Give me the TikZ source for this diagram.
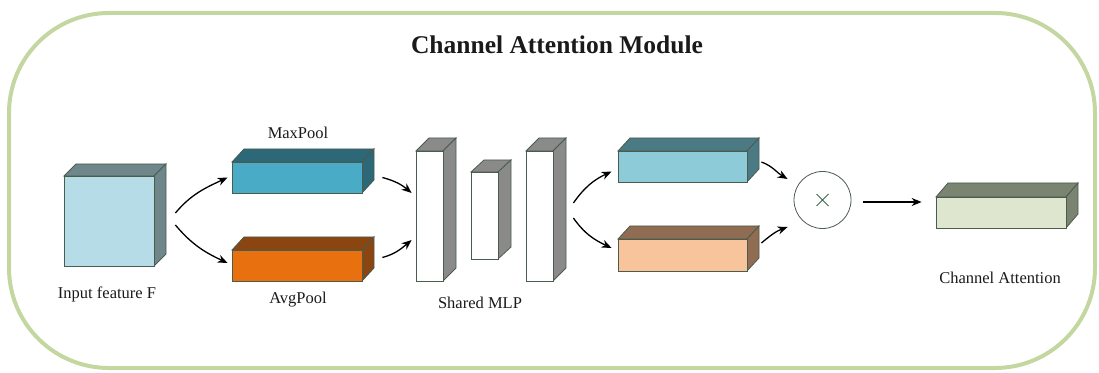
\documentclass[tikz,border=0pt]{standalone}
\usepackage{fontspec}
\setmainfont{Liberation Serif}
\usetikzlibrary{arrows.meta,fit}

\definecolor{frame}{HTML}{C5D7A0}
\definecolor{edgec}{HTML}{4A5C4E}
\definecolor{txt}{HTML}{1A1A1A}
\definecolor{inF}{HTML}{B6DCE7}  \definecolor{inS}{HTML}{6F878B}
\definecolor{mpF}{HTML}{4AABC6}  \definecolor{mpS}{HTML}{2C6877}
\definecolor{apF}{HTML}{E8700F}  \definecolor{apS}{HTML}{8A4510}
\definecolor{mlF}{HTML}{FFFFFF}  \definecolor{mlS}{HTML}{8A8A8A}
\definecolor{c1F}{HTML}{8ECBD8}  \definecolor{c1S}{HTML}{4B7A85}
\definecolor{c2F}{HTML}{F8C49B}  \definecolor{c2S}{HTML}{8F6C52}
\definecolor{caF}{HTML}{DFE6CF}  \definecolor{caS}{HTML}{7B8471}
\definecolor{crossc}{HTML}{3C6A4C}

% cuboid: name, front lower-left x,y, front upper-right x,y, depth x,y, front colour, side colour
\newcommand\cuboid[9]{%
  \filldraw[fill=#9, faceline] (#2,#5) -- ++(#6,#7) -- (#4+#6,#5+#7) -- (#4,#5) -- cycle;
  \filldraw[fill=#9, faceline] (#4,#5) -- ++(#6,#7) -- (#4+#6,#3+#7) -- (#4,#3) -- cycle;
  \coordinate (#1-ll) at (#2,#3);
  \coordinate (#1-ur) at (#4,#5);
  \node[fit=(#1-ll)(#1-ur), inner sep=0pt, fill=#8, faceline] (#1) {};
}

\begin{document}
\begin{tikzpicture}[x=1pt,y=1pt,
  faceline/.style={draw=edgec, line width=0.8pt},
  lbl/.style={font=\fontsize{16.5}{18}\selectfont, text=txt},
  arr/.style={-{Stealth[length=10pt,width=8pt]}, line width=1.3pt, black},
]
\useasboundingbox (0,0) rectangle (1099,372);

% module frame
\draw[frame, line width=4pt, rounded corners=100pt] (9,4) rectangle (1095,359);
\node[font=\bfseries\fontsize{25.5}{28}\selectfont, text=txt] (title) at (557,327) {Channel Attention Module};

% input feature
\cuboid{inp}{64}{106}{154}{196}{12}{12}{inF}{inS}
\node[lbl] (inpl) at (107,78) {Input feature F};

% pooling branches
\cuboid{mp}{232}{179}{362}{210}{12}{13}{mpF}{mpS}
\cuboid{ap}{232}{91}{362}{122}{12}{13}{apF}{apS}
\node[lbl] (mpl) at (298,239) {MaxPool};
\node[lbl] (apl) at (298,72) {AvgPool};

% shared MLP
\cuboid{m1}{416}{91}{443}{221}{13}{13}{mlF}{mlS}
\cuboid{m2}{471}{113}{498}{200}{13}{12}{mlF}{mlS}
\cuboid{m3}{526}{91}{553}{221}{13}{13}{mlF}{mlS}
\node[lbl] (mlpl) at (480,69) {Shared MLP};

% MLP outputs
\cuboid{o1}{618}{190}{747}{221}{12}{13}{c1F}{c1S}
\cuboid{o2}{618}{101}{747}{133}{12}{13}{c2F}{c2S}

% element-wise product
\node[circle, draw=edgec, line width=0.8pt, minimum size=57pt, inner sep=0pt] (mul) at (822.5,172) {};
\draw[crossc, line width=0.8pt] ([shift={(-6pt,-6pt)}]mul.center) -- ([shift={(6pt,6pt)}]mul.center)
  ([shift={(-6pt,6pt)}]mul.center) -- ([shift={(6pt,-6pt)}]mul.center);

% channel attention output
\cuboid{ca}{936}{144}{1066}{175}{12}{14}{caF}{caS}
\node[lbl] (cal) at (1000,94) {Channel Attention};

% connectors
\draw[arr] ([shift={(21pt,8pt)}]inp.east) to[out=50,in=205] ([xshift=-4pt]mp.west);
\draw[arr] ([shift={(21pt,-4pt)}]inp.east) to[out=-50,in=155] ([shift={(-4pt,2.5pt)}]ap.west);
\draw[arr] ([xshift=20pt]mp.east) to[out=-15,in=140] ([shift={(-4pt,23pt)}]m1.west);
\draw[arr] ([shift={(20pt,8pt)}]ap.east) to[out=15,in=220] ([shift={(-4pt,-24pt)}]m1.west);
\draw[arr] ([shift={(20pt,13pt)}]m3.east) to[out=55,in=205] ([shift={(-6pt,-5pt)}]o1.west);
\draw[arr] ([shift={(20pt,-2pt)}]m3.east) to[out=-55,in=155] ([shift={(-6pt,7pt)}]o2.west);
\draw[arr] ([shift={(14pt,4.5pt)}]o1.east) to[out=-20,in=150] ([shift={(-6pt,21pt)}]mul.west);
\draw[arr] ([shift={(14pt,12pt)}]o2.east) to[out=40,in=200] ([shift={(-6pt,-27pt)}]mul.west);
\path ([shift={(12pt,-2pt)}]mul.east) coordinate (mulout);
\path (mulout -| ca.west) coordinate (cain);
\draw[arr] (mulout) -- ([xshift=-14pt]cain);
\end{tikzpicture}
\end{document}
